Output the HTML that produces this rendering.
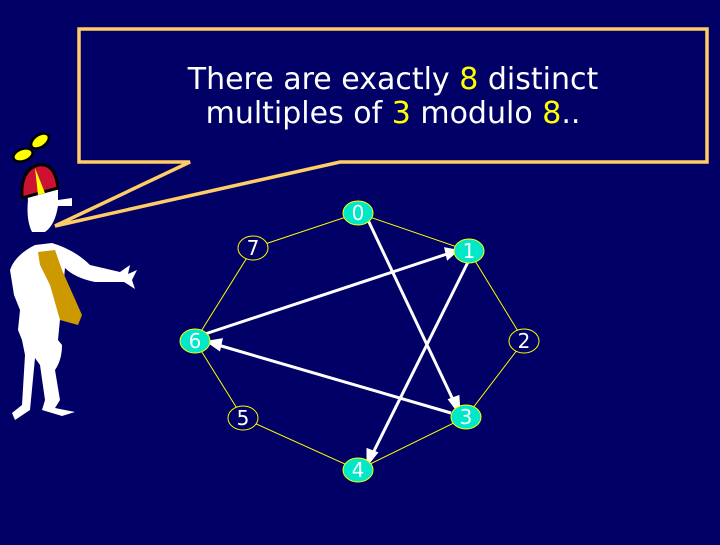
<!DOCTYPE html>
<html><head><style>
html,body{margin:0;padding:0;background:#000066;}
body{width:720px;height:540px;overflow:hidden;}
</style></head><body>
<svg width="720" height="540" viewBox="0 0 720 540" xmlns="http://www.w3.org/2000/svg">
<rect width="720" height="540" fill="#000066"/>
<polygon points="79,29 707,29 707,162 340,162 55,226 190,162 79,162" fill="#000066" stroke="#ffcc66" stroke-width="3.5" stroke-linejoin="miter"/>
<text x="393" y="89" text-anchor="middle" font-family="'Comic Sans MS','DejaVu Sans',sans-serif" font-size="30" fill="#fff">There are exactly <tspan fill="#ffff00">8</tspan> distinct</text>
<text x="393" y="123" text-anchor="middle" font-family="'Comic Sans MS','DejaVu Sans',sans-serif" font-size="30" fill="#fff">multiples of <tspan fill="#ffff00">3</tspan> modulo <tspan fill="#ffff00">8</tspan>..</text>
<g>
<path d="M28,200 Q25,185 45,188 L58,190 L58,200 L72,198 L72,206 L58,206 Q55,225 45,232 L32,232 Q26,220 28,200Z" fill="#fff"/>
<path d="M22,198 Q20,170 38,165 Q55,162 58,188 Z" fill="#cc1133" stroke="#000" stroke-width="3"/>
<path d="M35,168 L38,195 L45,193 Z" fill="#ffff00"/>
<ellipse cx="23" cy="155" rx="10" ry="6" fill="#ffff00" stroke="#000" stroke-width="2.5" transform="rotate(-20 23 155)"/>
<ellipse cx="40" cy="141" rx="10" ry="6" fill="#ffff00" stroke="#000" stroke-width="2.5" transform="rotate(-35 40 141)"/>
<path d="M35,245 L52,243 Q75,250 90,265 L120,272 L130,265 L128,274 L137,270 L132,280 L135,289 L124,282 L95,282 Q75,278 65,268 L58,340 L62,345 Q62,360 55,370 L60,400 L55,408 L75,412 L62,416 L42,410 L45,400 L40,365 L35,358 L30,410 L15,420 L12,413 L22,405 L25,355 L22,340 L18,330 L20,310 L14,295 L10,270 Q15,255 35,245Z" fill="#fff"/>
<path d="M38,252 L55,250 L62,270 L82,315 L78,325 L60,320 L50,285 L40,265Z" fill="#cc9900"/>
</g>
<g stroke="#ffff00" stroke-width="1" fill="none">
<polygon points="358,213 469,251 524,341 466,417 358,470 243,418 195,341 253,248"/>
</g>
<g stroke="#fff" stroke-width="3" fill="#fff">
<line x1="368" y1="220" x2="455" y2="404"/>
<polygon points="459,412 450,400 458,397"/>
<line x1="468" y1="262" x2="372" y2="455"/>
<polygon points="368,463 368,450 376,453"/>
<line x1="205" y1="334" x2="447" y2="254"/>
<polygon points="456,251 446,249 448,258"/>
<line x1="451" y1="413" x2="218" y2="345"/>
<polygon points="209,342 221,340 219,349"/>
</g>
<g stroke="#ffff00" stroke-width="1">
<ellipse cx="358" cy="213" rx="15" ry="12" fill="#00e8c8"/>
<ellipse cx="469" cy="251" rx="15" ry="12" fill="#00e8c8"/>
<ellipse cx="524" cy="341" rx="15" ry="12" fill="#000066"/>
<ellipse cx="466" cy="417" rx="15" ry="12" fill="#00e8c8"/>
<ellipse cx="358" cy="470" rx="15" ry="12" fill="#00e8c8"/>
<ellipse cx="243" cy="418" rx="15" ry="12" fill="#000066"/>
<ellipse cx="195" cy="341" rx="15" ry="12" fill="#00e8c8"/>
<ellipse cx="253" cy="248" rx="15" ry="12" fill="#000066"/>
</g>
<g fill="#fff" font-family="'DejaVu Sans',sans-serif" font-size="20" text-anchor="middle">
<text x="358" y="220">0</text><text x="469" y="258">1</text><text x="524" y="348">2</text>
<text x="466" y="424">3</text><text x="358" y="477">4</text><text x="243" y="425">5</text>
<text x="195" y="348">6</text><text x="253" y="255">7</text>
</g>
</svg>
</body></html>
